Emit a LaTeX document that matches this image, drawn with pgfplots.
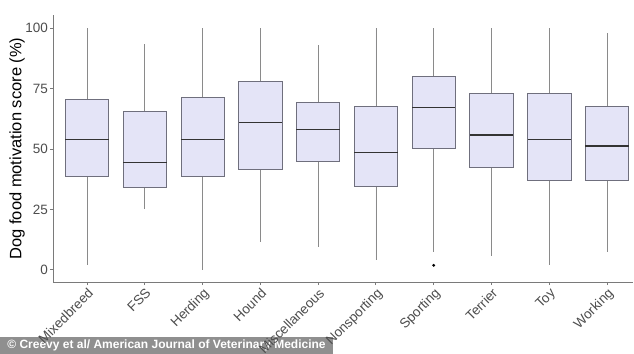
\documentclass[border=0pt]{standalone}
\usepackage{fontspec}
\setmainfont{Liberation Sans}
\usepackage{pgfplots}
\pgfplotsset{compat=1.18}
\usepgfplotslibrary{statistics}
\definecolor{boxfill}{HTML}{E4E4F7}
\definecolor{boxedge}{HTML}{6F6F7D}
\definecolor{whisk}{HTML}{8A8A8A}
\definecolor{axgray}{HTML}{7A7A7A}
\definecolor{ticktext}{HTML}{4D4D4D}
\definecolor{cbar}{HTML}{8F8F8F}
\pgfplotsset{
  gbox/.style={solid, draw=boxedge, fill=boxfill, line width=0.8pt,
    boxplot/draw direction=y,
    boxplot/box extend=0.75, boxplot/whisker extend=0,
    boxplot/every whisker/.style={draw=whisk, line width=0.8pt},
    boxplot/every median/.style={draw=black!80, line width=1.4pt},
    mark=*, mark size=1pt, mark options={fill=black, draw=black}}
}
\begin{document}
\begin{tikzpicture}
\begin{axis}[
  name=ax, set layers,
  scale only axis, width=580bp, height=267bp,
  xmin=0.41, xmax=10.45, ymin=-5, ymax=105.4,
  axis lines=left, axis line style={-, draw=axgray, line width=0.9pt},
  xtick={1,...,10},
  xticklabels={Mixedbreed,FSS,Herding,Hound,Miscellaneous,Nonsporting,Sporting,Terrier,Toy,Working},
  ytick={0,25,50,75,100},
  tick style={draw=axgray, line width=0.9pt}, tick align=outside, major tick length=3bp,
  x tick label style={rotate=45, anchor=north east, inner sep=1.5bp, font=\fontsize{13.5bp}{16bp}\selectfont, text=ticktext},
  y tick label style={font=\fontsize{13.5bp}{16bp}\selectfont, text=ticktext, inner sep=2bp},
  /pgf/number format/assume math mode=true,
  ylabel={Dog food motivation score (\%)},
  ylabel style={at={(axis description cs:-0.062,0.5)}, anchor=center, font=\fontsize{16.5bp}{20bp}\selectfont},
  clip=false,
]
\addplot[gbox, boxplot prepared={draw position=1, lower whisker=2, lower quartile=38.6, median=53.8, upper quartile=70.4, upper whisker=100}] coordinates {};
\addplot[gbox, boxplot prepared={draw position=2, lower whisker=25, lower quartile=34.2, median=44.5, upper quartile=65.4, upper whisker=93.5}] coordinates {};
\addplot[gbox, boxplot prepared={draw position=3, lower whisker=0, lower quartile=38.6, median=53.8, upper quartile=71.2, upper whisker=100}] coordinates {};
\addplot[gbox, boxplot prepared={draw position=4, lower whisker=11.7, lower quartile=41.7, median=60.9, upper quartile=78.1, upper whisker=100}] coordinates {};
\addplot[gbox, boxplot prepared={draw position=5, lower whisker=9.6, lower quartile=44.9, median=58, upper quartile=69.1, upper whisker=93}] coordinates {};
\addplot[gbox, boxplot prepared={draw position=6, lower whisker=4.1, lower quartile=34.7, median=48.5, upper quartile=67.5, upper whisker=100}] coordinates {};
\addplot[gbox, boxplot prepared={draw position=7, lower whisker=7.6, lower quartile=50.1, median=67.2, upper quartile=79.9, upper whisker=100}] coordinates {(0,1.9)};
\addplot[gbox, boxplot prepared={draw position=8, lower whisker=5.8, lower quartile=42.4, median=55.8, upper quartile=72.9, upper whisker=100}] coordinates {};
\addplot[gbox, boxplot prepared={draw position=9, lower whisker=2, lower quartile=37.2, median=53.8, upper quartile=72.9, upper whisker=100}] coordinates {};
\addplot[gbox, boxplot prepared={draw position=10, lower whisker=7.6, lower quartile=37.2, median=51.2, upper quartile=67.8, upper whisker=98.1}] coordinates {};
\begin{pgfonlayer}{axis background}
\fill[cbar] (rel axis cs:-0.0914,-0.2697) rectangle (rel axis cs:0.4828,-0.2060);
\node[text=white, font=\fontsize{12bp}{14bp}\selectfont\bfseries, anchor=center] at (rel axis cs:0.1957,-0.2378) {© Creevy et al/ American Journal of Veterinary Medicine};
\end{pgfonlayer}
\end{axis}
\pgfresetboundingbox
\path[use as bounding box, shift={(ax.south west)}] (-53bp,-72bp) rectangle (581bp,282bp);
\end{tikzpicture}
\end{document}
